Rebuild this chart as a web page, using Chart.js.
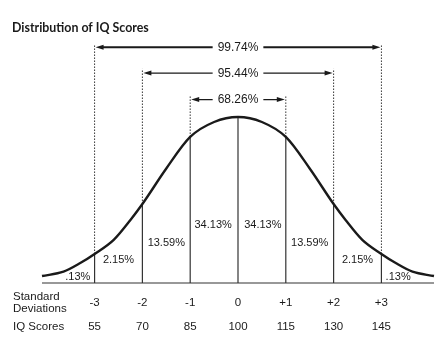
<!DOCTYPE html>
<html>
<head>
<meta charset="utf-8">
<script src="https://cdn.jsdelivr.net/npm/chart.js@4.4.1/dist/chart.umd.min.js"></script>
<style>
  html, body { margin: 0; padding: 0; background: #fff; }
  canvas { display: block; }
</style>
</head>
<body>
<canvas id="iqChart" width="448" height="337"></canvas>
<script>
// bell curve, x in standard deviations, height relative to the peak (=100)
const curveX = [-4.1, -3.65, -3.3, -3, -2.6, -2.25, -2, -1.5, -1, -0.5, 0, 0.5, 1, 1.5, 2, 2.25, 2.6, 3, 3.3, 3.65, 4.1];
const curveY = [4.2, 6.8, 12, 17.5, 26, 38, 47.6, 69, 88, 97, 100, 97, 88, 69, 47.6, 38, 26, 17.5, 12, 6.8, 4.2];

const sdTicks = [-3, -2, -1, 0, 1, 2, 3];
const sdLabels = ["-3", "-2", "-1", "0", "+1", "+2", "+3"];
const iqScores = [55, 70, 85, 100, 115, 130, 145];

// area under the curve between neighbouring deviations
const bandPercents = [".13%", "2.15%", "13.59%", "34.13%", "34.13%", "13.59%", "2.15%", ".13%"];

// share within +-1, +-2, +-3 deviations
const rangeSpans = [1, 2, 3];
const rangePercents = ["68.26%", "95.44%", "99.74%"];

const INK = "#1a1a1a";
const FONT = "'Liberation Sans', Arial, sans-serif";

function curveAt(x) {
  return curveY[curveX.indexOf(x)];
}

// height (in y units) of each bracket row and the top of its dotted guide
const bracketY = { 1: 110.5, 2: 126.5, 3: 142 };
const guideTop = { 1: 113, 2: 129, 3: 144 };

const datasets = [];
datasets.push({
  data: curveX.map((x, i) => ({ x: x, y: curveY[i] })),
  borderColor: INK,
  borderWidth: 2.4,
  cubicInterpolationMode: "monotone",
  pointRadius: 0,
  clip: false,
});
datasets.push({
  data: [{ x: curveX[0], y: 0 }, { x: curveX[curveX.length - 1], y: 0 }],
  borderColor: "#333",
  borderWidth: 1.2,
  pointRadius: 0,
  clip: false,
});
sdTicks.forEach((sd) => {
  datasets.push({
    data: [{ x: sd, y: 0 }, { x: sd, y: curveAt(sd) }],
    borderColor: "#333",
    borderWidth: 1.2,
    pointRadius: 0,
    clip: false,
  });
  if (sd !== 0) {
    datasets.push({
      data: [{ x: sd, y: curveAt(sd) }, { x: sd, y: guideTop[Math.abs(sd)] }],
      borderColor: "#333",
      borderWidth: 1,
      borderDash: [1.5, 1.5],
      pointRadius: 0,
      clip: false,
    });
  }
});

const annotations = {
  id: "annotations",
  afterDatasetsDraw(chart) {
    const ctx = chart.ctx;
    const xs = chart.scales.x;
    const ys = chart.scales.y;
    ctx.save();
    ctx.fillStyle = INK;
    ctx.strokeStyle = INK;

    // title
    ctx.font = "bold 12.4px Lato, sans-serif";
    ctx.textAlign = "left";
    ctx.textBaseline = "middle";
    ctx.fillText("Distribution of IQ Scores", 12, 28);

    // range brackets with arrows
    ctx.font = "12px " + FONT;
    ctx.textAlign = "center";
    rangeSpans.forEach((span, i) => {
      const x1 = xs.getPixelForValue(-span);
      const x2 = xs.getPixelForValue(span);
      const y = ys.getPixelForValue(bracketY[span]);
      const cx = (x1 + x2) / 2;
      const w = ctx.measureText(rangePercents[i]).width;
      const head = 8;
      ctx.lineWidth = span === 3 ? 2 : 1.3;
      ctx.beginPath();
      ctx.moveTo(x1 + head, y);
      ctx.lineTo(cx - w / 2 - 5, y);
      ctx.moveTo(cx + w / 2 + 5, y);
      ctx.lineTo(x2 - head, y);
      ctx.stroke();
      ctx.beginPath();
      ctx.moveTo(x1 + 1, y);
      ctx.lineTo(x1 + head + 1, y - 2.5);
      ctx.lineTo(x1 + head + 1, y + 2.5);
      ctx.closePath();
      ctx.moveTo(x2 - 1, y);
      ctx.lineTo(x2 - head - 1, y - 2.5);
      ctx.lineTo(x2 - head - 1, y + 2.5);
      ctx.closePath();
      ctx.fill();
      ctx.fillText(rangePercents[i], cx, y + 0.5);
    });

    // band percentages, lower towards the tails
    const bandX = [-3.35, -2.5, -1.5, -0.52, 0.52, 1.5, 2.5, 3.35];
    const bandLevel = [3.6, 14, 24, 35, 35, 24, 14, 3.6];
    ctx.font = "11px " + FONT;
    bandPercents.forEach((p, i) => {
      ctx.fillText(p, xs.getPixelForValue(bandX[i]), ys.getPixelForValue(bandLevel[i]));
    });

    // scale rows under the axis
    ctx.font = "11.5px " + FONT;
    ctx.textAlign = "left";
    ctx.fillText("Standard", 13, 297);
    ctx.fillText("Deviations", 13, 308.5);
    ctx.fillText("IQ Scores", 13, 327);
    ctx.textAlign = "center";
    sdTicks.forEach((sd, i) => {
      const px = xs.getPixelForValue(sd);
      ctx.fillText(sdLabels[i], px, 303);
      ctx.fillText(String(iqScores[i]), px, 327);
    });
    ctx.restore();
  },
};

new Chart(document.getElementById("iqChart"), {
  type: "line",
  data: { datasets: datasets },
  options: {
    responsive: false,
    animation: false,
    devicePixelRatio: 1,
    layout: { padding: { left: 42, right: 14, top: 44, bottom: 54 } },
    scales: {
      x: { type: "linear", min: -4.1, max: 4.1, display: false },
      y: { min: 0, max: 144, display: false },
    },
    plugins: {
      legend: { display: false },
      tooltip: { enabled: false },
    },
  },
  plugins: [annotations],
});
</script>
</body>
</html>
